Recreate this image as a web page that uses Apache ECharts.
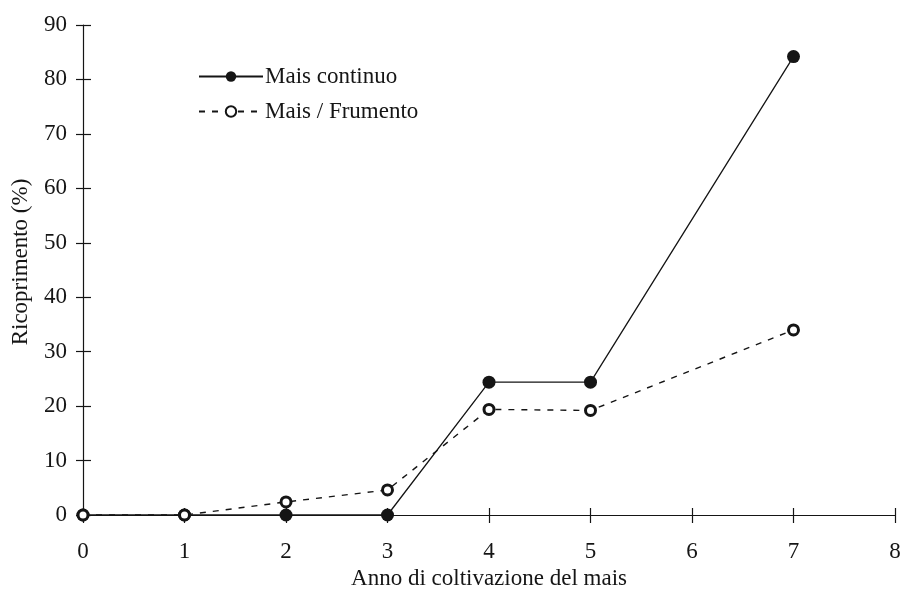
<!DOCTYPE html>
<html><head><meta charset="utf-8">
<script src="https://cdn.jsdelivr.net/npm/echarts@6/dist/echarts.min.js"></script>
<style>html,body{margin:0;padding:0;background:#fff}#c{width:900px;height:600px}</style>
</head><body><div id="c"></div>
<script>
const years = [0, 1, 2, 3, 4, 5, 7];
const maisContinuo = [0, 0, 0, 0, 24.4, 24.4, 84.2];
const maisFrumento = [0, 0, 2.4, 4.6, 19.4, 19.2, 34];
const seriesNames = ['Mais continuo', 'Mais / Frumento'];
const xTitle = 'Anno di coltivazione del mais';
const yTitle = 'Ricoprimento (%)';

const ink = '#151515';
const font = 'Liberation Serif';
const fs = 23;
const pairs = (xs, ys) => xs.map((x, i) => [x, ys[i]]);

const chart = echarts.init(document.getElementById('c'));
const baseX = {type: 'value', min: 0, max: 8, interval: 1, gridIndex: 0};
const baseY = {type: 'value', min: 0, max: 90, interval: 10, gridIndex: 0};
chart.setOption({
  animation: false,
  backgroundColor: '#fff',
  grid: {left: 83, right: 5, top: 25, bottom: 85, containLabel: false, outerBoundsMode: 'none'},
  legend: {
    left: 193, top: 60, orient: 'vertical', itemGap: 12,
    itemWidth: 64, itemHeight: 13,
    textStyle: {fontFamily: font, fontSize: fs, color: ink, padding: [0, 0, 0, -3]},
    data: seriesNames
  },
  xAxis: [
    Object.assign({}, baseX, {
      position: 'bottom', offset: 0,
      name: xTitle, nameLocation: 'middle', nameGap: 51,
      nameTextStyle: {fontFamily: font, fontSize: fs, color: ink},
      axisLine: {show: true, onZero: false, lineStyle: {color: ink, width: 1.2}},
      axisTick: {show: true, inside: true, length: 7, lineStyle: {color: ink, width: 1.2}},
      axisLabel: {fontFamily: font, fontSize: fs, color: ink, margin: 25},
      splitLine: {show: false}
    }),
    Object.assign({}, baseX, {
      position: 'bottom', offset: 0,
      axisLine: {show: false, onZero: false},
      axisTick: {show: true, inside: false, length: 8, lineStyle: {color: ink, width: 1.2}},
      axisLabel: {show: false}, splitLine: {show: false}
    })
  ],
  yAxis: [
    Object.assign({}, baseY, {
      name: yTitle, nameLocation: 'middle', nameGap: 51,
      nameTextStyle: {fontFamily: font, fontSize: fs, color: ink, padding: [0, 0, 0, 16]},
      axisLine: {show: true, lineStyle: {color: ink, width: 1.2}},
      axisTick: {show: true, length: 7, lineStyle: {color: ink, width: 1.2}},
      axisLabel: {fontFamily: font, fontSize: fs, color: ink, margin: 16},
      splitLine: {show: false}
    }),
    Object.assign({}, baseY, {
      position: 'left',
      axisLine: {show: false},
      axisTick: {show: true, inside: true, length: 8, lineStyle: {color: ink, width: 1.2}},
      axisLabel: {show: false}, splitLine: {show: false}
    })
  ],
  series: [
    {
      name: seriesNames[0], type: 'line', data: pairs(years, maisContinuo),
      symbol: 'circle', symbolSize: 13, showAllSymbol: true,
      lineStyle: {color: ink, width: 1.3},
      itemStyle: {color: ink, borderColor: ink, borderWidth: 0},
      z: 2
    },
    {
      name: seriesNames[1], type: 'line', data: pairs(years, maisFrumento),
      symbol: 'circle', symbolSize: 10, showAllSymbol: true,
      lineStyle: {color: ink, width: 1.4, type: [6, 7]},
      itemStyle: {color: '#fff', borderColor: ink, borderWidth: 3},
      z: 3
    }
  ]
});
</script></body></html>
